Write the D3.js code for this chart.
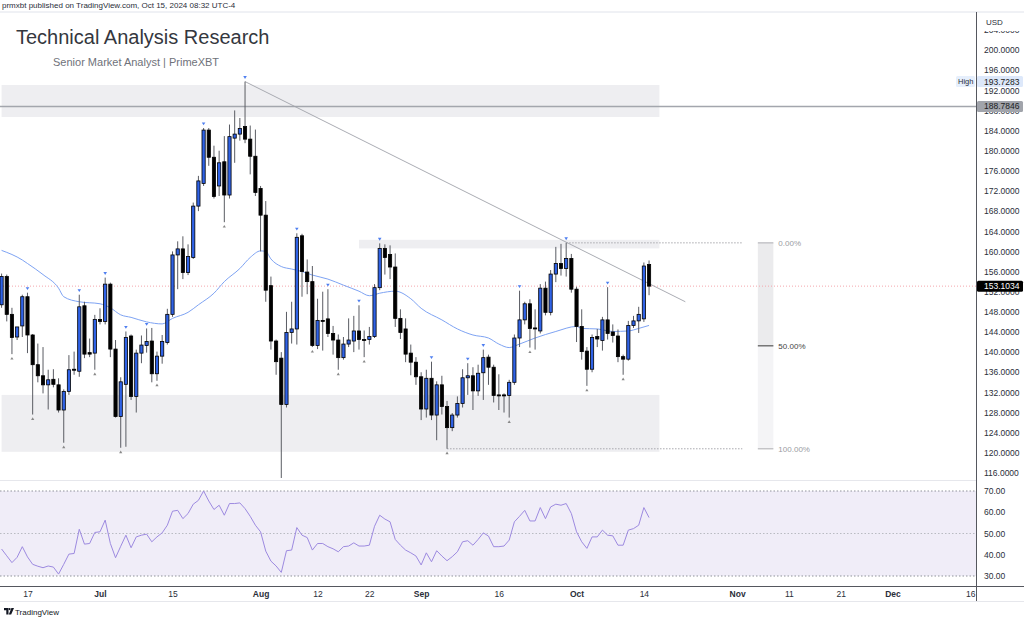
<!DOCTYPE html>
<html><head><meta charset="utf-8">
<script src="https://cdn.jsdelivr.net/npm/d3@7"></script>
<style>
body{margin:0;background:#fff;}
svg{display:block;font-family:"Liberation Sans",Arial,sans-serif;}
</style>
</head><body>
<svg id="c" width="1024" height="622"></svg>
<script>
// ---------------- DATA ----------------
const dates = [
"2024-06-12","2024-06-13","2024-06-14","2024-06-15","2024-06-16","2024-06-17","2024-06-18","2024-06-19","2024-06-20","2024-06-21","2024-06-22","2024-06-23","2024-06-24","2024-06-25","2024-06-26","2024-06-27","2024-06-28","2024-06-29","2024-06-30",
"2024-07-01","2024-07-02","2024-07-03","2024-07-04","2024-07-05","2024-07-06","2024-07-07","2024-07-08","2024-07-09","2024-07-10","2024-07-11","2024-07-12","2024-07-13","2024-07-14","2024-07-15","2024-07-16","2024-07-17","2024-07-18","2024-07-19","2024-07-20","2024-07-21","2024-07-22","2024-07-23","2024-07-24","2024-07-25","2024-07-26","2024-07-27","2024-07-28","2024-07-29","2024-07-30","2024-07-31",
"2024-08-01","2024-08-02","2024-08-03","2024-08-04","2024-08-05","2024-08-06","2024-08-07","2024-08-08","2024-08-09","2024-08-10","2024-08-11","2024-08-12","2024-08-13","2024-08-14","2024-08-15","2024-08-16","2024-08-17","2024-08-18","2024-08-19","2024-08-20","2024-08-21","2024-08-22","2024-08-23","2024-08-24","2024-08-25","2024-08-26","2024-08-27","2024-08-28","2024-08-29","2024-08-30","2024-08-31",
"2024-09-01","2024-09-02","2024-09-03","2024-09-04","2024-09-05","2024-09-06","2024-09-07","2024-09-08","2024-09-09","2024-09-10","2024-09-11","2024-09-12","2024-09-13","2024-09-14","2024-09-15","2024-09-16","2024-09-17","2024-09-18","2024-09-19","2024-09-20","2024-09-21","2024-09-22","2024-09-23","2024-09-24","2024-09-25","2024-09-26","2024-09-27","2024-09-28","2024-09-29","2024-09-30",
"2024-10-01","2024-10-02","2024-10-03","2024-10-04","2024-10-05","2024-10-06","2024-10-07","2024-10-08","2024-10-09","2024-10-10","2024-10-11","2024-10-12","2024-10-13","2024-10-14","2024-10-15"];

const open = [
149.4,155.0,147.5,143.0,145.2,151.0,143.4,137.5,135.3,133.5,134.6,133.5,128.5,132.2,136.6,136.2,149.2,139.9,139.8,
146.5,146.1,153.5,140.6,127.2,133.6,143.2,131.2,139.8,141.3,142.2,135.7,139.2,141.9,147.5,159.3,160.5,155.8,158.8,169.0,173.5,184.1,178.7,173.0,177.8,171.2,182.5,183.3,184.8,182.3,178.9,
172.5,167.2,153.2,142.2,138.8,129.6,143.9,144.6,163.1,155.9,154.0,141.3,146.3,146.6,143.7,142.4,138.9,141.6,142.2,144.2,142.5,142.5,143.1,152.8,160.6,159.4,156.9,146.7,144.6,139.8,138.0,
135.1,128.7,134.8,127.5,133.5,129.2,125.0,127.5,129.8,134.9,135.3,132.3,135.9,139.0,137.0,131.5,131.5,131.4,134.0,142.8,146.4,149.6,144.8,144.2,152.7,147.9,155.5,157.6,156.6,158.6,
152.5,145.1,140.2,136.6,143.1,142.3,146.4,144.0,143.2,139.1,138.6,145.3,146.2,146.6,157.4];

const high = [
155.6,155.4,148.8,144.6,151.4,151.8,143.6,141.7,141.0,136.5,136.6,134.8,132.6,139.4,140.1,151.4,150.0,142.7,147.4,
148.7,154.8,153.8,142.4,135.0,144.1,143.5,140.5,143.3,144.7,144.8,140.1,143.4,148.6,160.0,162.0,163.0,161.4,169.7,175.0,184.5,184.5,181.0,180.0,182.9,185.2,188.0,186.5,193.7283,185.0,184.2,
173.0,170.0,155.0,142.5,140.0,148.0,150.0,163.6,163.5,158.4,157.1,150.6,152.0,152.5,145.2,143.5,143.0,146.7,147.2,149.3,144.3,145.0,153.5,161.6,161.4,161.2,159.6,148.5,146.7,141.5,139.0,
136.0,136.5,138.1,134.2,135.3,130.3,127.9,131.2,136.6,137.8,137.0,137.5,140.5,139.5,137.5,135.6,131.8,134.5,143.5,152.2,150.0,150.5,148.5,153.5,154.0,156.3,160.9,161.5,161.7,159.5,
153.0,148.5,141.0,143.5,144.6,147.0,152.9,145.5,144.5,139.5,146.2,147.2,149.0,157.8,158.2];

const low = [
148.8,146.1,139.6,142.4,143.0,139.8,127.6,134.0,131.8,128.6,133.0,128.0,122.0,131.5,135.5,135.1,138.8,139.0,136.5,
145.5,145.5,139.0,127.0,121.0,121.2,130.5,128.0,137.8,139.9,134.0,134.3,137.7,141.5,147.0,152.5,154.5,155.3,158.5,168.0,173.0,177.0,170.5,171.0,165.8,170.5,177.6,182.0,181.5,175.3,171.0,
160.0,150.0,140.5,135.5,115.0,129.0,141.7,141.5,151.0,151.5,141.0,140.6,140.3,143.0,139.5,136.5,138.5,141.0,140.0,140.5,139.0,141.5,142.8,152.3,155.4,154.5,145.0,142.6,138.0,135.4,133.5,
126.5,127.0,126.5,122.5,127.6,120.8,124.3,127.0,129.0,131.5,128.5,131.3,130.5,133.5,130.0,128.5,128.0,127.0,133.5,141.0,145.5,140.9,140.5,143.7,147.3,147.3,153.9,155.2,155.0,151.8,
142.0,138.5,133.3,136.0,141.0,140.3,142.5,141.9,138.0,135.5,138.3,144.8,143.8,146.0,151.3];

const close = [
155.0,147.5,142.9,145.0,151.0,143.4,137.5,135.3,133.5,134.5,133.6,128.5,132.2,136.5,136.4,149.0,139.6,139.6,146.5,
146.1,153.5,140.6,127.2,134.1,142.9,131.2,139.8,141.4,142.1,135.7,139.2,142.1,147.5,159.3,160.5,155.8,159.0,169.0,174.0,184.1,178.7,170.9,177.6,171.2,182.8,183.3,184.4,182.3,178.9,171.7,
167.2,152.3,142.2,138.1,129.6,143.9,144.6,162.8,156.0,154.0,141.3,146.3,146.2,143.7,142.4,138.9,141.6,142.4,144.2,142.5,142.3,143.1,152.8,160.6,158.8,156.9,146.7,143.9,139.6,138.0,135.1,
128.7,134.8,127.5,133.5,129.2,125.0,127.5,129.8,134.9,135.3,132.3,135.8,138.9,137.0,131.4,131.4,131.4,134.0,142.8,146.4,149.6,144.7,144.6,152.7,147.9,155.5,157.6,156.6,158.6,152.5,
145.1,140.1,136.6,142.9,142.6,146.4,143.7,143.3,139.1,138.6,145.3,146.2,147.5,157.1,153.1034];

const rsi = [
42.7,39.5,36.3,38.8,43.8,39.0,35.5,34.6,33.9,34.7,34.2,30.9,35.5,40.3,40.6,52.0,45.0,45.3,50.5,
50.8,56.3,45.3,38.6,44.0,49.2,43.3,48.4,49.2,49.7,46.1,48.4,50.3,53.9,60.5,60.9,57.0,59.4,63.8,65.6,70.0,65.3,61.3,63.3,58.6,64.1,64.1,64.4,61.7,58.1,53.9,
50.8,41.7,37.0,34.7,31.7,41.9,42.2,52.8,49.2,48.1,42.2,45.3,45.3,43.8,42.8,41.4,43.8,44.1,45.6,44.1,44.1,44.5,53.4,58.6,56.8,55.5,47.2,44.5,42.2,40.9,39.4,
35.2,40.9,36.7,41.9,39.4,37.2,39.1,41.4,46.1,46.6,44.5,47.2,50.3,48.8,43.8,43.8,44.1,46.9,55.5,58.1,60.9,55.9,55.9,62.2,57.0,62.5,63.8,63.3,64.1,59.4,
50.8,46.1,43.0,48.4,48.4,51.6,49.2,48.9,44.5,44.5,51.6,52.3,53.9,62.2,57.5];

// moving average, read at selected dates
const maDates = ["2024-06-12","2024-06-16","2024-06-17","2024-06-20","2024-06-23","2024-06-24","2024-06-27","2024-07-01","2024-07-03","2024-07-05","2024-07-07","2024-07-10","2024-07-13","2024-07-15","2024-07-18","2024-07-20","2024-07-23","2024-07-25","2024-07-28","2024-07-30","2024-08-01","2024-08-02","2024-08-03","2024-08-05","2024-08-07","2024-08-09","2024-08-11","2024-08-14","2024-08-17","2024-08-20","2024-08-22","2024-08-24","2024-08-27","2024-08-30","2024-09-01","2024-09-05","2024-09-08","2024-09-11","2024-09-14","2024-09-16","2024-09-18","2024-09-20","2024-09-23","2024-09-27","2024-10-01","2024-10-02","2024-10-05","2024-10-08","2024-10-11","2024-10-13","2024-10-15"];
const maValues = [160.2,158.3,157.6,155.4,152.7,151.0,150.0,149.6,148.8,147.4,146.9,146.0,145.6,146.7,147.9,149.4,151.7,154.0,156.6,158.8,160.1,160.0,158.5,157.0,156.5,156.0,155.3,154.5,153.3,152.1,151.2,151.7,152.1,150.6,148.7,146.4,144.6,143.4,142.8,141.6,140.9,141.6,142.8,144.1,145.1,144.7,144.6,144.1,144.2,144.7,145.3];

const pivotHighDates = ["2024-06-17","2024-06-27","2024-07-02","2024-07-06","2024-07-10","2024-07-21","2024-07-29","2024-08-08","2024-08-14","2024-08-20","2024-08-24","2024-09-03","2024-09-10","2024-09-13","2024-09-20","2024-09-29","2024-10-07"];
const pivotLowDates = ["2024-06-14","2024-06-18","2024-06-24","2024-06-30","2024-07-05","2024-07-12","2024-07-25","2024-08-11","2024-08-16","2024-08-21","2024-09-06","2024-09-18","2024-09-22","2024-10-03","2024-10-10"];

const priceTicks = [116,120,124,128,132,136,140,144,148,152,156,160,164,168,172,176,180,184,188,192,196,200,204];
const rsiTicks = [30,40,50,60,70];
const xTickDates = ["2024-06-17","2024-07-01","2024-07-15","2024-08-01","2024-08-12","2024-08-22","2024-09-01","2024-09-16","2024-10-01","2024-10-14","2024-11-01","2024-11-11","2024-11-21","2024-12-01","2024-12-16"];
const xTickLabels = ["17","Jul","15","Aug","12","22","Sep","16","Oct","14","Nov","11","21","Dec","16"];

// drawing annotations (price levels)
const zoneTop = [186.7, 193.05];
const zoneBottom = [120.2, 131.5];
const zoneMid = [160.6, 162.3];
const hLinePrice = 188.7846;
const highPrice = 193.7283;
const lastPrice = 153.1034;
const fibLevels = [161.7, 141.25, 120.8];
const fibLabels = ["0.00%","50.00%","100.00%"];
const trendStart = ["2024-07-29", 193.7283];
const trendEnd = ["2024-10-22", 150.0];

// ---------------- CHART ----------------
const P = s => new Date(s);
const svg = d3.select("#c");
const AX = 976;           // price axis x
const mainTop = 12, mainBot = 480, rsiTop = 481, rsiBot = 586;

const x = d3.scaleUtc().domain([P("2024-07-01"), P("2024-12-16")]).range([100, 970.2]);
const y = d3.scaleLinear().domain([114.6, 207.55]).range([mainBot, mainTop]);
const yr = d3.scaleLinear().domain([30, 70]).range([576, 491]);

svg.append("rect").attr("width",1024).attr("height",622).attr("fill","#fff");

const defs = svg.append("defs");
defs.append("clipPath").attr("id","clipMain").append("rect").attr("x",0).attr("y",mainTop).attr("width",AX).attr("height",mainBot-mainTop);
defs.append("clipPath").attr("id","clipRsi").append("rect").attr("x",0).attr("y",rsiTop).attr("width",AX).attr("height",rsiBot-rsiTop);

const main = svg.append("g").attr("clip-path","url(#clipMain)");

// zones
const zoneStart = P("2024-06-12"), zoneEnd = P("2024-10-17");
[[zoneTop, zoneStart],[zoneBottom, zoneStart],[zoneMid, P("2024-08-20")]].forEach(([z, s]) => {
  main.append("rect").attr("x", x(s)).attr("width", x(zoneEnd)-x(s))
    .attr("y", y(z[1])).attr("height", y(z[0])-y(z[1])).attr("fill","#eeeef1");
});

// fib band
const fibX0 = x(P("2024-11-05")), fibX1 = x(P("2024-11-08"));
main.append("rect").attr("x",fibX0).attr("width",fibX1-fibX0).attr("y",y(fibLevels[0])).attr("height",y(fibLevels[1])-y(fibLevels[0])).attr("fill","#ebebed");
main.append("rect").attr("x",fibX0).attr("width",fibX1-fibX0).attr("y",y(fibLevels[1])).attr("height",y(fibLevels[2])-y(fibLevels[1])).attr("fill","#f4f4f6");
fibLevels.forEach((lv,i)=>{
  main.append("line").attr("x1",fibX0).attr("x2",fibX1).attr("y1",y(lv)).attr("y2",y(lv))
    .attr("stroke", i===1?"#555":"#b8b8bc").attr("stroke-width",1.2);
  main.append("text").attr("x",fibX1+5).attr("y",y(lv)).attr("dy","0.35em")
    .attr("font-size",8).attr("fill", i===1?"#444":"#9a9ca3").text(fibLabels[i]);
});

// dotted levels from pivots
const dotEnd = P("2024-11-02");
main.append("line").attr("x1",x(P("2024-09-29"))).attr("x2",x(dotEnd)).attr("y1",y(fibLevels[0])).attr("y2",y(fibLevels[0]))
  .attr("stroke","#a8a8ad").attr("stroke-dasharray","1.5,1.5").attr("stroke-width",1);
main.append("line").attr("x1",x(P("2024-09-06"))).attr("x2",x(dotEnd)).attr("y1",y(fibLevels[2])).attr("y2",y(fibLevels[2]))
  .attr("stroke","#a8a8ad").attr("stroke-dasharray","1.5,1.5").attr("stroke-width",1);

// horizontal level line
main.append("line").attr("x1",0).attr("x2",AX).attr("y1",y(hLinePrice)).attr("y2",y(hLinePrice))
  .attr("stroke","#a3a6ad").attr("stroke-width",1.3);

// last price dotted
main.append("line").attr("x1",0).attr("x2",AX).attr("y1",y(lastPrice)).attr("y2",y(lastPrice))
  .attr("stroke","#f4a6ad").attr("stroke-dasharray","1,2").attr("stroke-width",1);

// trend line
main.append("line").attr("x1",x(P(trendStart[0]))).attr("y1",y(trendStart[1]))
  .attr("x2",x(P(trendEnd[0]))).attr("y2",y(trendEnd[1]))
  .attr("stroke","#a0a3aa").attr("stroke-width",0.9);

// moving average
const maLine = d3.line().x((d,i)=>x(P(maDates[i]))).y(d=>y(d)).curve(d3.curveMonotoneX);
main.append("path").attr("d", maLine(maValues)).attr("fill","none").attr("stroke","#7ea3f3").attr("stroke-width",1);

// candles
const bw = 3.2;
const cg = main.append("g");
dates.forEach((ds,i)=>{
  const cx = x(P(ds));
  cg.append("line").attr("x1",cx).attr("x2",cx).attr("y1",y(high[i])).attr("y2",y(low[i]))
    .attr("stroke","#5a5c63").attr("stroke-width",1);
});
dates.forEach((ds,i)=>{
  const cx = x(P(ds));
  const up = close[i] >= open[i];
  const top = y(Math.max(open[i],close[i])), bot = y(Math.min(open[i],close[i]));
  cg.append("rect").attr("x",cx-bw/2).attr("width",bw).attr("y",top).attr("height",Math.max(1,bot-top))
    .attr("fill", up ? "#2f62e6" : "#000").attr("stroke","#000").attr("stroke-width",0.8);
});

// pivot markers
const idx = s => dates.indexOf(s);
pivotHighDates.forEach(s=>{
  const i = idx(s), cx = x(P(s)), cy = y(high[i]) - 4;
  main.append("path").attr("d",`M${cx-1.8},${cy-1.5}L${cx+1.8},${cy-1.5}L${cx},${cy+1.3}Z`).attr("fill","#4f7ff0");
});
pivotLowDates.forEach(s=>{
  const i = idx(s), cx = x(P(s)), cy = y(low[i]) + 4;
  main.append("path").attr("d",`M${cx-1.6},${cy+1.4}L${cx+1.6},${cy+1.4}L${cx},${cy-1.2}Z`).attr("fill","#888");
});

// ---------------- RSI PANE ----------------
const rg = svg.append("g").attr("clip-path","url(#clipRsi)");
rg.append("rect").attr("x",0).attr("width",AX).attr("y",yr(70)).attr("height",yr(30)-yr(70)).attr("fill","#f0edf8");
[70,50,30].forEach(v=>{
  rg.append("line").attr("x1",0).attr("x2",AX).attr("y1",yr(v)).attr("y2",yr(v))
    .attr("stroke", v===50 ? "#b9bbc2" : "#8f929a").attr("stroke-dasharray","1.5,2").attr("stroke-width",1);
});
const rsiLine = d3.line().x((d,i)=>x(P(dates[i]))).y(d=>yr(d));
rg.append("path").attr("d", rsiLine(rsi)).attr("fill","none").attr("stroke","#9d8ae0").attr("stroke-width",1);

// ---------------- FRAME ----------------
svg.append("line").attr("x1",0).attr("x2",1024).attr("y1",mainTop).attr("y2",mainTop).attr("stroke","#e0e3eb");
svg.append("line").attr("x1",0).attr("x2",AX).attr("y1",mainBot+0.5).attr("y2",mainBot+0.5).attr("stroke","#e6e7ec");
svg.append("line").attr("x1",0).attr("x2",1024).attr("y1",rsiBot+0.5).attr("y2",rsiBot+0.5).attr("stroke","#55575e");
svg.append("line").attr("x1",AX+0.5).attr("x2",AX+0.5).attr("y1",mainTop).attr("y2",601).attr("stroke","#55575e");
svg.append("line").attr("x1",0).attr("x2",1024).attr("y1",601.5).attr("y2",601.5).attr("stroke","#e6e7ec");

// ---------------- AXES ----------------
const pAxis = svg.append("g").attr("transform",`translate(${AX},0)`)
  .call(d3.axisRight(y).tickValues(priceTicks).tickFormat(d=>d.toFixed(4)).tickSize(0).tickPadding(8));
pAxis.select(".domain").remove();
pAxis.selectAll("text").attr("font-size",8.5).attr("fill","#2a2e39").attr("font-family","Liberation Sans, Arial, sans-serif");

const rAxis = svg.append("g").attr("transform",`translate(${AX},0)`)
  .call(d3.axisRight(yr).tickValues(rsiTicks).tickFormat(d=>d.toFixed(2)).tickSize(0).tickPadding(8));
rAxis.select(".domain").remove();
rAxis.selectAll("text").attr("font-size",8.5).attr("fill","#2a2e39").attr("font-family","Liberation Sans, Arial, sans-serif");

const xAxis = svg.append("g").attr("transform",`translate(0,${rsiBot})`)
  .call(d3.axisBottom(x).tickValues(xTickDates.map(P)).tickFormat((d,i)=>xTickLabels[i]).tickSize(0).tickPadding(5));
xAxis.select(".domain").remove();
xAxis.selectAll("text").attr("font-size",8.5).attr("fill","#2a2e39").attr("font-family","Liberation Sans, Arial, sans-serif")
  .attr("font-weight",(d,i)=>isNaN(+xTickLabels[i]) ? "bold" : "normal");

// USD box (covers top tick)
svg.append("rect").attr("x",AX+2).attr("y",mainTop+2).attr("width",44).attr("height",17).attr("fill","#fff");
svg.append("text").attr("x",AX+10).attr("y",mainTop+13).attr("font-size",8).attr("fill","#2a2e39").text("USD");

// price labels
function priceTag(v, bg, fg){
  const yy = y(v);
  svg.append("rect").attr("x",AX+1).attr("y",yy-5.5).attr("width",46).attr("height",11).attr("fill",bg).attr("rx",1.5);
  svg.append("text").attr("x",AX+8).attr("y",yy).attr("dy","0.35em").attr("font-size",8.5).attr("fill",fg).text(v.toFixed(4));
}
priceTag(hLinePrice, "#a1a4ab", "#1b1d22");
priceTag(highPrice, "#dde8fa", "#1b1d22");
priceTag(lastPrice, "#000", "#fff");
// High label on the chart side
svg.append("rect").attr("x",AX-20).attr("y",y(highPrice)-5.5).attr("width",19).attr("height",11).attr("fill","#e6effc").attr("rx",1.5);
svg.append("text").attr("x",AX-18).attr("y",y(highPrice)).attr("dy","0.35em").attr("font-size",7.5).attr("fill","#2a2e39").text("High");

// ---------------- TEXTS ----------------
svg.append("text").attr("x",2).attr("y",8).attr("font-size",8).attr("fill","#2a2e39")
  .text("prmxbt published on TradingView.com, Oct 15, 2024 08:32 UTC-4");
svg.append("text").attr("x",16).attr("y",44).attr("font-size",20).attr("fill","#34373e")
  .text("Technical Analysis Research");
svg.append("text").attr("x",53).attr("y",66).attr("font-size",11).attr("fill","#6f727a")
  .text("Senior Market Analyst | PrimeXBT");

// TradingView footer
const lg = svg.append("g").attr("transform","translate(4,608)").attr("fill","#131722");
lg.append("path").attr("d","M0,0H4.5V6.5H2.3V2.2H0Z");
lg.append("circle").attr("cx",5.6).attr("cy",1.1).attr("r",1.1);
lg.append("path").attr("d","M7.4,0H10L7.2,6.5H4.8Z");
svg.append("text").attr("x",15).attr("y",614.5).attr("font-size",8).attr("fill","#131722").text("TradingView");
</script>
</body></html>
